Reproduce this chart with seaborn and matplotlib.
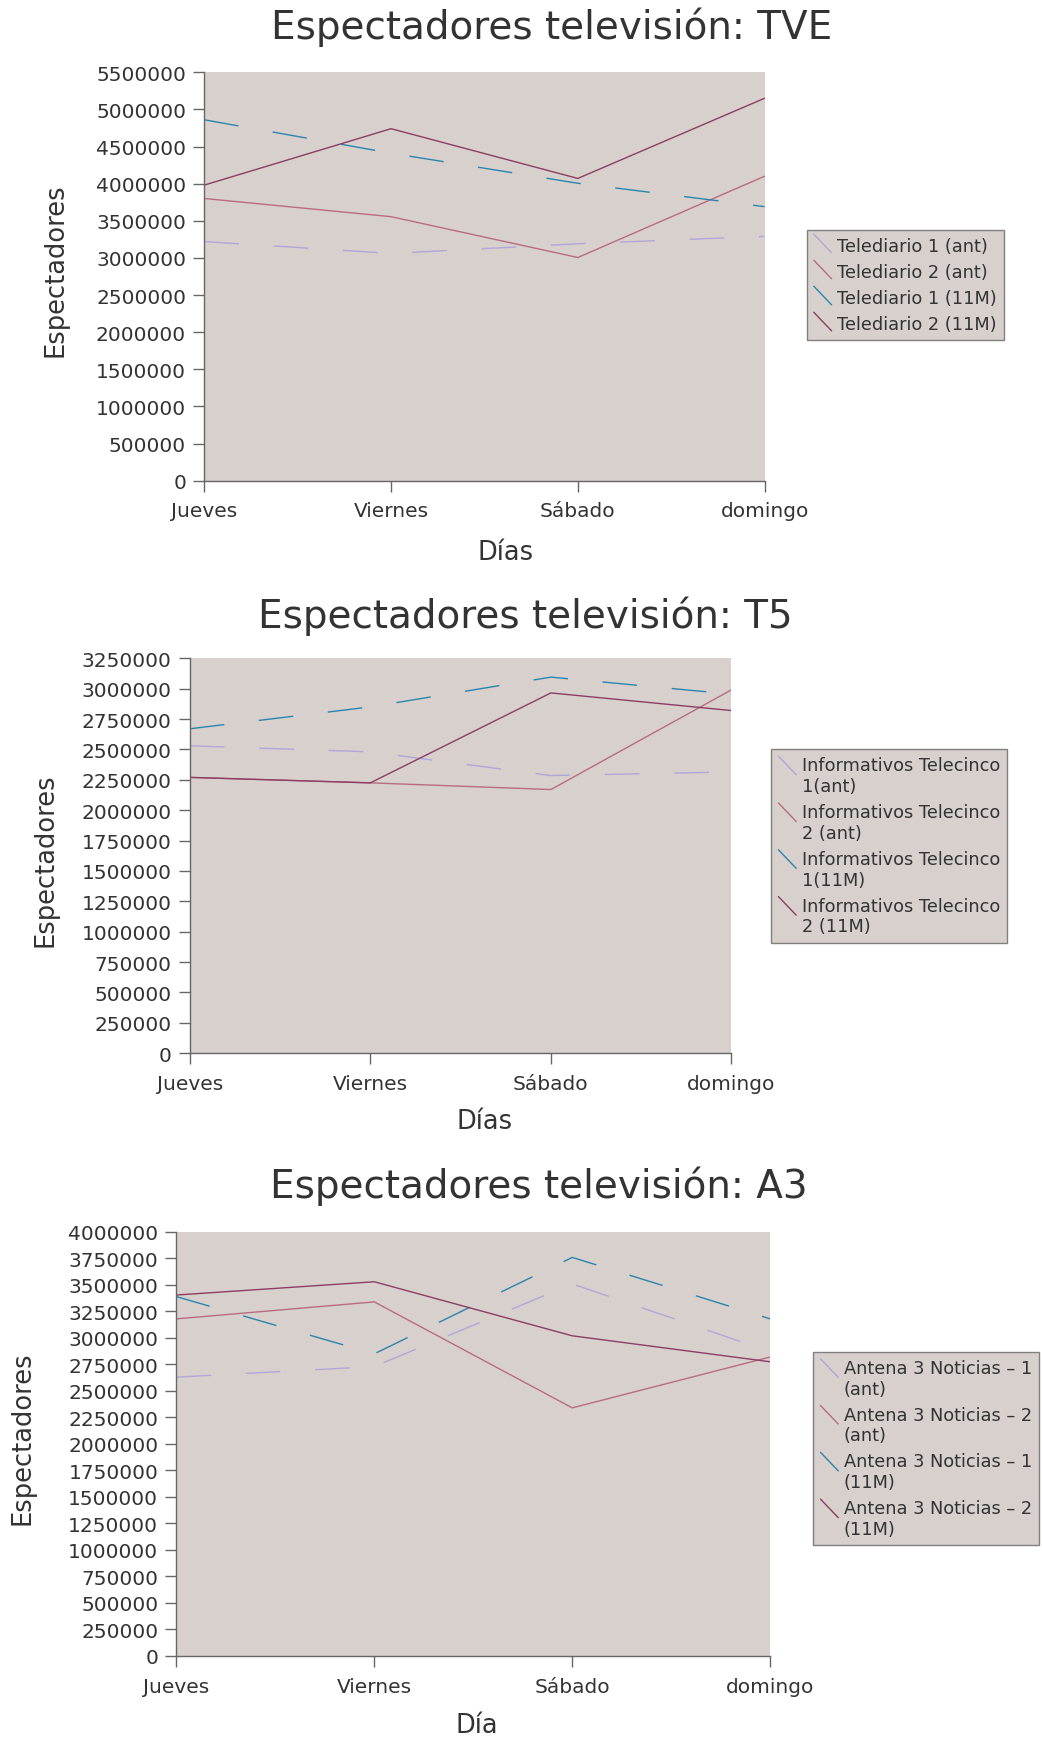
import matplotlib
matplotlib.use("Agg")
import matplotlib.pyplot as plt
from matplotlib.lines import Line2D
from matplotlib.legend_handler import HandlerBase
from matplotlib.ticker import MultipleLocator, StrMethodFormatter
import seaborn as sns
import pandas as pd

# ---------------- data ----------------
days = ["Jueves", "Viernes", "Sábado", "domingo"]

tve_labels = ["Telediario 1 (ant)", "Telediario 2 (ant)",
              "Telediario 1 (11M)", "Telediario 2 (11M)"]
tve_1_ant = [3220000, 3060000, 3190000, 3290000]
tve_2_ant = [3800000, 3555000, 3005000, 4100000]
tve_1_11m = [4860000, 4410000, 4005000, 3690000]
tve_2_11m = [3980000, 4740000, 4070000, 5150000]

t5_labels = ["Informativos Telecinco\n1(ant)", "Informativos Telecinco\n2 (ant)",
             "Informativos Telecinco\n1(11M)", "Informativos Telecinco\n2 (11M)"]
t5_1_ant = [2530000, 2480000, 2285000, 2315000]
t5_2_ant = [2270000, 2225000, 2170000, 2990000]
t5_1_11m = [2670000, 2850000, 3095000, 2955000]
t5_2_11m = [2270000, 2225000, 2965000, 2820000]

a3_labels = ["Antena 3 Noticias – 1\n(ant)", "Antena 3 Noticias – 2\n(ant)",
             "Antena 3 Noticias – 1\n(11M)", "Antena 3 Noticias – 2\n(11M)"]
a3_1_ant = [2630000, 2730000, 3510000, 2870000]
a3_2_ant = [3180000, 3340000, 2340000, 2820000]
a3_1_11m = [3390000, 2850000, 3760000, 3180000]
a3_2_11m = [3405000, 3530000, 3020000, 2775000]

titles = ["Espectadores televisión: TVE", "Espectadores televisión: T5",
          "Espectadores televisión: A3"]
xlabels = ["Días", "Días", "Día"]
ylabel = "Espectadores"
ymax = [5500000, 3250000, 4000000]
ystep = [500000, 250000, 250000]

# ---------------- style ----------------
colors = ["#b0a7d8", "#b86c81", "#2c84ad", "#8b3e63"]
dash_styles = [(25, 25), "", (25, 25), ""]
face = "#d7d0cd"
txt = "#333333"

sns.set_style("ticks")
plt.rcParams["font.family"] = ["DejaVu Sans"]
plt.rcParams["text.color"] = txt
plt.rcParams["axes.labelcolor"] = txt
plt.rcParams["xtick.color"] = "#666666"
plt.rcParams["ytick.color"] = "#666666"
plt.rcParams["xtick.labelcolor"] = txt
plt.rcParams["ytick.labelcolor"] = txt


class DiagHandler(HandlerBase):
    def create_artists(self, legend, orig_handle, xdescent, ydescent,
                       width, height, fontsize, trans):
        shift = getattr(orig_handle, "_extra_lines", 0) * 0.55 * fontsize
        ln = Line2D([-xdescent, width - xdescent],
                    [height - ydescent + 0.15 * fontsize + shift, -ydescent + shift],
                    color=orig_handle.get_color(), lw=1.0)
        ln.set_transform(trans)
        return [ln]


fig = plt.figure(figsize=(10.42, 17.4), dpi=100)

axes_pos = [
    [0.1960, 0.7232, 0.5378, 0.2347],
    [0.1822, 0.3941, 0.5197, 0.2270],
    [0.1693, 0.0478, 0.5698, 0.2436],
]
title_pos = [(0.529, 0.9843), (0.504, 0.6460), (0.517, 0.3180)]
xlabel_coords = [(0.537, -0.174), (0.545, -0.172), (0.506, -0.163)]
ylabel_coords = [(-0.265, 0.518), (-0.266, 0.492), (-0.260, 0.516)]
legend_pos = [(0.7742, 0.8674), (0.7402, 0.5689), (0.7806, 0.2226)]

datasets = [
    (tve_labels, [tve_1_ant, tve_2_ant, tve_1_11m, tve_2_11m]),
    (t5_labels, [t5_1_ant, t5_2_ant, t5_1_11m, t5_2_11m]),
    (a3_labels, [a3_1_ant, a3_2_ant, a3_1_11m, a3_2_11m]),
]

for i, (labels, series) in enumerate(datasets):
    ax = fig.add_axes(axes_pos[i])
    ax.set_facecolor(face)
    rows = []
    for lab, vals in zip(labels, series):
        for d, v in zip(days, vals):
            rows.append({"Día": d, "Espectadores": v, "Serie": lab})
    df = pd.DataFrame(rows)
    sns.lineplot(data=df, x="Día", y="Espectadores", hue="Serie", style="Serie",
                 palette=dict(zip(labels, colors)),
                 dashes=dict(zip(labels, dash_styles)),
                 hue_order=labels, style_order=labels,
                 sort=False, linewidth=1.0, legend=False, ax=ax)
    ax.set_xlim(0, len(days) - 1)
    ax.set_ylim(0, ymax[i])
    ax.yaxis.set_major_locator(MultipleLocator(ystep[i]))
    ax.yaxis.set_major_formatter(StrMethodFormatter("{x:.0f}"))
    ax.set_xticks(range(len(days)))
    ax.set_xticklabels(days)
    ax.tick_params(axis="y", length=7.6, width=1.0, pad=5.5, labelsize=14.5)
    ax.tick_params(axis="x", length=8.0, width=1.0, pad=7.0, labelsize=14.5)
    for s in ["top", "right"]:
        ax.spines[s].set_visible(False)
    for s in ["left", "bottom"]:
        ax.spines[s].set_color("#666666")
        ax.spines[s].set_linewidth(1.0)

    ax.set_xlabel(xlabels[i], fontsize=18.5)
    ax.xaxis.set_label_coords(*xlabel_coords[i])
    ax.xaxis.label.set_va("center")
    ax.set_ylabel(ylabel, fontsize=18.5)
    ax.yaxis.set_label_coords(*ylabel_coords[i])
    ax.yaxis.label.set_va("center")
    ax.yaxis.label.set_ha("center")

    fig.text(title_pos[i][0], title_pos[i][1], titles[i], fontsize=28,
             ha="center", va="center", color=txt)

    handles = []
    for c, lab in zip(colors, labels):
        h = Line2D([], [], color=c)
        h._extra_lines = lab.count("\n")
        handles.append(h)
    leg = ax.legend(handles, labels, loc="upper left",
                    bbox_to_anchor=legend_pos[i], bbox_transform=fig.transFigure,
                    fontsize=12.8, frameon=True, fancybox=False, framealpha=1.0,
                    facecolor=face, edgecolor="#808080", borderpad=0.4,
                    labelspacing=0.45, handlelength=1.0, handleheight=1.0,
                    handletextpad=0.3, borderaxespad=0.0,
                    handler_map={Line2D: DiagHandler()})
    leg.get_frame().set_linewidth(1.0)

fig.savefig("out.png", dpi=100)
